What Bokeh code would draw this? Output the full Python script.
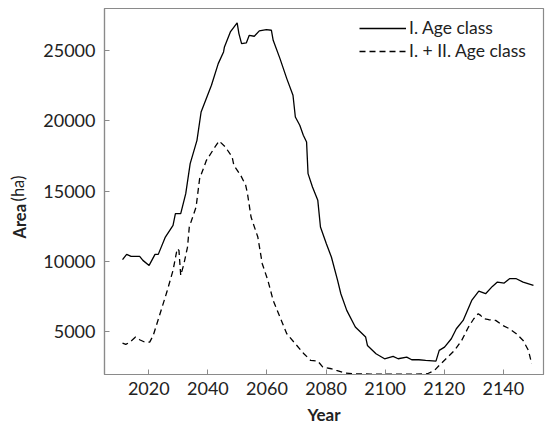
import numpy as np
from bokeh.plotting import figure
from bokeh.models import Range1d, FixedTicker, Label, Legend, LegendItem
from bokeh.embed import file_html
from bokeh.resources import INLINE

# Series I. Age class (solid)
years_1 = [2011.1, 2012.5, 2014.0, 2016.9, 2018.0, 2020.1, 2022.1, 2023.2, 2025.6, 2028.2,
           2029.0, 2030.8, 2032.5, 2034.0, 2036.3, 2037.7, 2041.2, 2043.5, 2045.3, 2045.6,
           2047.6, 2049.9, 2050.5, 2051.4, 2053.0, 2054.0, 2055.7, 2057.4, 2059.8, 2061.5,
           2062.1, 2064.4, 2066.7, 2068.8, 2069.6, 2071.1, 2072.3, 2073.4, 2073.9, 2075.4,
           2077.2, 2078.1, 2080.1, 2081.8, 2083.9, 2085.0, 2087.0, 2089.9, 2093.4, 2094.0,
           2096.9, 2099.8, 2102.7, 2104.4, 2107.3, 2109.0, 2111.4, 2113.7, 2117.2, 2118.3,
           2120.1, 2122.4, 2124.1, 2126.4, 2129.3, 2131.7, 2134.0, 2136.3, 2138.0, 2140.3,
           2142.1, 2144.4, 2146.7, 2150.2]
area_1 = [10095, 10476, 10333, 10333, 10048, 9690, 10476, 10476, 11714, 12548,
          13381, 13381, 14810, 16952, 18619, 20643, 22548, 24095, 24929, 25286,
          26357, 27000, 26238, 25524, 25571, 26119, 26048, 26429, 26524, 26476,
          25762, 24452, 23024, 21833, 20286, 19690, 18976, 18500, 16238, 15286,
          14333, 12429, 11238, 10286, 8619, 7667, 6476, 5286, 4571, 3976,
          3381, 3024, 3190, 3024, 3143, 2952, 2952, 2905, 2857, 3619,
          3857, 4452, 5167, 5762, 7190, 7857, 7667, 8190, 8500, 8429,
          8738, 8738, 8500, 8262]

# Series I. + II. Age class (dashed)
years_2 = [2011.1, 2012.2, 2013.6, 2015.5, 2016.9, 2018.6, 2020.3, 2021.5, 2023.8, 2026.1,
           2028.2, 2029.6, 2030.2, 2030.8, 2031.9, 2033.1, 2033.7, 2036.0, 2037.2, 2039.5,
           2042.4, 2043.8, 2045.9, 2048.2, 2048.8, 2051.1, 2052.8, 2053.4, 2054.6, 2056.9,
           2058.4, 2060.3, 2062.1, 2064.4, 2066.7, 2069.6, 2072.5, 2074.8, 2077.2, 2078.9,
           2081.8, 2083.5, 2086.4, 2089.9, 2095.0, 2100.0, 2105.0, 2110.0, 2114.3, 2116.7,
           2118.3, 2120.6, 2123.5, 2125.9, 2128.2, 2130.0, 2131.5, 2132.3, 2133.4, 2135.1,
           2137.4, 2139.8, 2142.1, 2144.4, 2146.7, 2148.5, 2149.6]
area_2 = [4143, 4048, 4214, 4571, 4381, 4214, 4214, 4690, 6238, 7786,
          9333, 10881, 10762, 8976, 9810, 11000, 12429, 13857, 15881, 17190,
          18143, 18571, 18143, 17429, 16833, 16119, 15405, 14810, 13143, 11714,
          9810, 8619, 7190, 6000, 4810, 4095, 3381, 2905, 2857, 2429,
          2310, 2190, 2000, 1952, 1930, 1930, 1930, 1930, 1952, 2190,
          2548, 3024, 3619, 4333, 5286, 5881, 6238, 6119, 5881, 5810,
          5762, 5405, 5167, 4810, 4333, 3619, 2667]

x_ticks = [2020, 2040, 2060, 2080, 2100, 2120, 2140]
y_ticks = [5000, 10000, 15000, 20000, 25000]
series_names = ["I. Age class", "I. + II. Age class"]

FONT = "Lato"
TXT = "#222222"
AXC = "#8a8a8a"

p = figure(width=545, height=428, output_backend="svg", toolbar_location=None,
           x_range=Range1d(2005.0, 2153.6), y_range=Range1d(1900, 28030),
           min_border_left=97, min_border_right=2, min_border_top=8, min_border_bottom=54)
p.grid.visible = False
p.background_fill_color = "white"
p.outline_line_color = AXC
p.outline_line_width = 1.2

r1 = p.line(years_1, area_1, line_color="black", line_width=1.3)
r2 = p.line(years_2, area_2, line_color="black", line_width=1.3, line_dash="6 4")

for ax in (p.xaxis[0], p.yaxis[0]):
    ax.axis_line_color = AXC
    ax.axis_line_width = 1.2
    ax.major_tick_line_color = AXC
    ax.major_tick_in = 5
    ax.major_tick_out = 0
    ax.minor_tick_line_color = None
    ax.major_label_text_font = FONT
    ax.major_label_text_font_size = "18px"
    ax.major_label_text_color = TXT
p.xaxis.major_label_standoff = 7
p.yaxis.major_label_standoff = 9

p.xaxis.ticker = FixedTicker(ticks=x_ticks)
p.yaxis.ticker = FixedTicker(ticks=y_ticks)
p.xaxis.axis_label = "Year"
p.xaxis.axis_label_text_font = FONT
p.xaxis.axis_label_text_font_style = "bold"
p.xaxis.axis_label_text_font_size = "17px"
p.xaxis.axis_label_text_color = TXT
p.xaxis.axis_label_standoff = 6

# y-axis label: bold "Area" + regular "(ha)"
p.add_layout(Label(x=-1, y=136, x_units="screen", y_units="screen", text="Area",
                   angle=np.pi / 2, text_font=FONT, text_font_style="bold",
                   text_font_size="16.5px", text_color=TXT, text_line_height=0.6,
                   text_align="left", text_baseline="middle"), "left")
p.add_layout(Label(x=17.5, y=173, x_units="screen", y_units="screen", text="(ha)",
                   angle=np.pi / 2, text_font=FONT, text_font_size="16.5px",
                   text_color=TXT, text_line_height=0.6,
                   text_align="left", text_baseline="middle"), "left")

legend = Legend(items=[LegendItem(label=series_names[0], renderers=[r1]),
                       LegendItem(label=series_names[1], renderers=[r2])],
                location=(255, 313), border_line_color=None, background_fill_alpha=0,
                label_text_font=FONT, label_text_font_size="17.5px", label_text_color=TXT,
                glyph_width=47, glyph_height=18, label_height=18, spacing=2,
                label_standoff=3, padding=4, margin=0)
p.add_layout(legend)

open("out.html", "w").write(file_html(p, INLINE))
